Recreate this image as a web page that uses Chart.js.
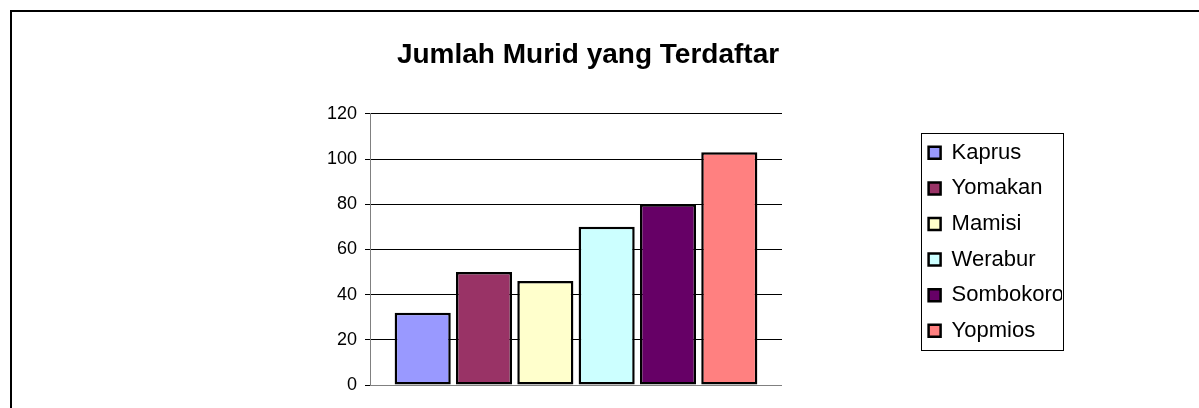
<!DOCTYPE html>
<html>
<head>
<meta charset="utf-8">
<script src="https://cdn.jsdelivr.net/npm/chart.js@4"></script>
<style>
  html, body { margin: 0; padding: 0; background: #fff; overflow: hidden; }
  #frame { position: absolute; left: 10px; top: 10px; width: 1300px; height: 500px; border: 2px solid #000; }
  #wrap { position: absolute; left: 0; top: 0; width: 1199px; height: 408px; }
</style>
</head>
<body>
<div id="frame"></div>
<div id="wrap"><canvas id="myChart" width="1199" height="408"></canvas></div>
<script>
const judul = 'Jumlah Murid yang Terdaftar';
const kategori = ['Kaprus', 'Yomakan', 'Mamisi', 'Werabur', 'Sombokoro', 'Yopmios'];
const jumlahMurid = [32, 50, 46, 70, 80, 103];
const warna = ['#9999FF', '#993366', '#FFFFCC', '#CCFFFF', '#660066', '#FF8080'];
const tickY = [0, 20, 40, 60, 80, 100, 120];

const font = 'Liberation Sans, Arial, sans-serif';
Chart.defaults.color = '#000';
Chart.defaults.font.family = font;

// kotak di sekeliling legenda
const kotakLegenda = {
  id: 'kotakLegenda',
  afterDraw(chart) {
    const boxes = chart.legend.legendHitBoxes;
    if (!boxes || !boxes.length) return;
    const first = boxes[0];
    const last = boxes[boxes.length - 1];
    const x = first.left - 8;
    const y = first.top - 9;
    const h = last.top + last.height + 8 - y;
    const ctx = chart.ctx;
    ctx.save();
    ctx.strokeStyle = '#000';
    ctx.lineWidth = 1;
    ctx.strokeRect(Math.round(x) + 0.5, Math.round(y) + 0.5, 142, Math.round(h));
    ctx.restore();
  }
};

const ctx = document.getElementById('myChart');

new Chart(ctx, {
  type: 'bar',
  data: {
    labels: [''],
    datasets: kategori.map((nama, i) => ({
      label: nama,
      data: [jumlahMurid[i]],
      backgroundColor: warna[i],
      borderColor: '#000',
      borderWidth: 2.5,
      borderSkipped: false,
      categoryPercentage: 0.893,
      barPercentage: 0.915
    }))
  },
  options: {
    responsive: false,
    animation: false,
    layout: { padding: { left: 0, right: 23, top: 0, bottom: 23 } },
    plugins: {
      tooltip: { enabled: false },
      title: {
        display: true,
        text: judul,
        color: '#000',
        font: { size: 28, weight: 'bold' },
        padding: { top: 38, bottom: 42.2 }
      },
      legend: {
        position: 'right',
        align: 'start',
        fullSize: false,
        title: { display: true, text: '', font: { size: 12 }, padding: 0 },
        labels: {
          color: '#000',
          font: { size: 22 },
          boxWidth: 12,
          boxHeight: 12,
          padding: 13.6
        }
      }
    },
    scales: {
      x: { display: false },
      y: {
        min: 0,
        max: 120,
        afterBuildTicks: (s) => { s.ticks = tickY.map(v => ({ value: v })); },
        afterFit: (s) => { s.width = 370; },
        ticks: { font: { size: 18 }, color: '#000', padding: 8 },
        grid: {
          color: (c) => (c.tick && c.tick.value === 0 ? '#808080' : '#000'),
          tickColor: '#000',
          tickLength: 5,
          lineWidth: 1
        },
        border: { color: '#808080', width: 1 }
      },
      kanan: {
        position: 'right',
        display: true,
        ticks: { display: false },
        grid: { display: false, drawTicks: false },
        border: { display: false },
        afterFit: (s) => { s.width = 133; }
      },
      luar: {
        position: 'right',
        weight: 2000,
        display: true,
        ticks: { display: false },
        grid: { display: false, drawTicks: false },
        border: { display: false },
        afterFit: (s) => { s.width = 114; }
      }
    }
  },
  plugins: [kotakLegenda]
});
</script>
</body>
</html>
